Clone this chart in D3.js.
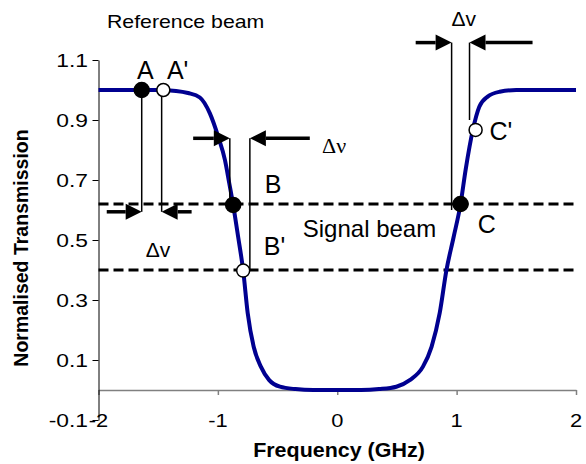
<!DOCTYPE html>
<html>
<head>
<meta charset="utf-8">
<script src="https://cdn.jsdelivr.net/npm/d3@7"></script>
<style>
  body { margin: 0; background: #fff; }
  text { font-family: Arial, "Liberation Sans", sans-serif; fill: #000; }
</style>
</head>
<body>
<script>
// transmission curve
const curveFreq  = [-2, -1.5, -1.35, -1.25, -1.151, -1.067, -0.997, -0.941, -0.905, -0.872, -0.83, -0.788, -0.75, -0.70, -0.64, -0.57, -0.48, -0.35, -0.2, 0, 0.2, 0.35, 0.495, 0.607, 0.718, 0.79, 0.858, 0.914, 0.975, 1.033, 1.075, 1.136, 1.19, 1.26, 1.36, 1.5, 2];
const curveTrans = [1, 1, 0.997, 0.99, 0.975, 0.922, 0.844, 0.767, 0.69, 0.617, 0.51, 0.398, 0.256, 0.144, 0.078, 0.033, 0.011, 0.003, 0, 0, 0, 0.003, 0.011, 0.033, 0.078, 0.144, 0.256, 0.398, 0.51, 0.62, 0.733, 0.867, 0.944, 0.978, 0.994, 1, 1];

// marked points
const pointNames  = ["A", "A'", "B", "B'", "C", "C'"];
const pointFreq   = [-1.638, -1.457, -0.872, -0.788, 1.033, 1.159];
const pointTrans  = [1.0, 1.0, 0.617, 0.398, 0.62, 0.867];
const pointFilled = [true, false, true, false, true, false];

// signal beam levels (dashed)
const levels = [0.62, 0.40];

// vertical guide lines
const guideFreq   = [-1.638, -1.471, -0.900, -0.732, 0.958, 1.108];
const guideTop    = [1.0, 1.0, 0.839, 0.839, 1.158, 1.158];
const guideBottom = [0.594, 0.594, 0.62, 0.40, 0.60, 0.90];

// Δv arrows
const arrowTrans = [0.594, 0.594, 0.839, 0.839, 1.158, 1.158];
const arrowTail  = [-1.931, -1.220, -1.207, -0.230, 0.657, 1.636];
const arrowTip   = [-1.638, -1.471, -0.900, -0.732, 0.958, 1.108];

const xTicks = [-2, -1, 0, 1, 2];
const xTickLabels = ["-2", "-1", "0", "1", "2"];
const yTicks = [-0.1, 0.1, 0.3, 0.5, 0.7, 0.9, 1.1];
const yTickLabels = ["-0.1", "0.1", "0.3", "0.5", "0.7", "0.9", "1.1"];

const W = 586, H = 464;
const x = d3.scaleLinear().domain([-2, 2]).range([98.5, 576]);
const y = d3.scaleLinear().domain([-0.1, 1.1]).range([420, 60]);

const svg = d3.select("body").append("svg")
  .attr("width", W).attr("height", H);

function widen(sel, k) {
  sel.each(function () {
    const w = this.getComputedTextLength();
    d3.select(this).attr("textLength", w * k).attr("lengthAdjust", "spacingAndGlyphs");
  });
}

// dashed signal levels
svg.append("g").selectAll("line").data(levels).join("line")
  .attr("x1", x(-2)).attr("x2", x(2))
  .attr("y1", d => y(d)).attr("y2", d => y(d))
  .attr("stroke", "#000").attr("stroke-width", 3)
  .attr("stroke-dasharray", "10,5");

// x axis at zero
const xAxis = svg.append("g")
  .attr("transform", `translate(0,${y(0)})`)
  .call(d3.axisBottom(x).tickValues(xTicks).tickSize(5).tickSizeOuter(0).tickFormat(""));
xAxis.selectAll("path, line").attr("stroke", "#808080").attr("stroke-width", 1.5);

const xLab = svg.append("g").selectAll("text").data(xTicks).join("text")
  .attr("x", d => x(d)).attr("y", 427)
  .attr("text-anchor", "middle")
  .style("font-size", "19px")
  .text((d, i) => xTickLabels[i]);
widen(xLab, 1.15);

// y axis
const yAxis = svg.append("g")
  .attr("transform", `translate(${x(-2)},0)`)
  .call(d3.axisLeft(y).tickValues(yTicks).tickSize(6).tickSizeOuter(0).tickFormat(""));
yAxis.selectAll("path, line").attr("stroke", "#000").attr("stroke-width", 1);

const yLab = svg.append("g").selectAll("text").data(yTicks).join("text")
  .attr("x", 88).attr("y", d => y(d) + 7)
  .attr("text-anchor", "end")
  .style("font-size", "19px")
  .text((d, i) => yTickLabels[i]);
widen(yLab, 1.2);

// curve
const pts = curveFreq.map((f, i) => [f, curveTrans[i]]);
svg.append("path")
  .datum(pts)
  .attr("fill", "none")
  .attr("stroke", "#000090")
  .attr("stroke-width", 4)
  .attr("d", d3.line().x(d => x(d[0])).y(d => y(d[1])).curve(d3.curveMonotoneX));

// guide lines
svg.append("g").selectAll("line").data(guideFreq).join("line")
  .attr("x1", d => x(d)).attr("x2", d => x(d))
  .attr("y1", (d, i) => y(guideTop[i])).attr("y2", (d, i) => y(guideBottom[i]))
  .attr("stroke", "#000").attr("stroke-width", 1.5);

// arrows
const ah = 16, aw = 8;
const arrows = svg.append("g").selectAll("g").data(arrowTip).join("g");
arrows.append("line")
  .attr("x1", (d, i) => x(arrowTail[i]))
  .attr("x2", (d, i) => x(d) - Math.sign(x(d) - x(arrowTail[i])) * ah)
  .attr("y1", (d, i) => y(arrowTrans[i])).attr("y2", (d, i) => y(arrowTrans[i]))
  .attr("stroke", "#000").attr("stroke-width", 3.5);
arrows.append("path")
  .attr("fill", "#000")
  .attr("d", (d, i) => {
    const tx = x(d), ty = y(arrowTrans[i]);
    const s = Math.sign(tx - x(arrowTail[i]));
    return `M${tx},${ty}L${tx - s * ah},${ty - aw}L${tx - s * ah},${ty + aw}Z`;
  });

// markers
svg.append("g").selectAll("circle").data(pointFreq).join("circle")
  .attr("cx", d => x(d)).attr("cy", (d, i) => y(pointTrans[i]))
  .attr("r", (d, i) => pointFilled[i] ? 7.5 : 6.5)
  .attr("fill", (d, i) => pointFilled[i] ? "#000" : "#fff")
  .attr("stroke", "#000").attr("stroke-width", 1.5);

// point labels
const labelPos = {
  "A":  [-1.678, 1.036], "A'": [-1.427, 1.036],
  "B":  [-0.607, 0.657], "B'": [-0.615, 0.45],
  "C":  [1.176, 0.522],  "C'": [1.276, 0.833]
};
svg.append("g").selectAll("text").data(pointNames).join("text")
  .attr("x", d => x(labelPos[d][0])).attr("y", d => y(labelPos[d][1]))
  .style("font-size", "25px")
  .text(d => d);

svg.append("text")
  .attr("x", x(-0.289)).attr("y", y(0.511))
  .style("font-size", "24px")
  .text("Signal beam");

const ref = svg.append("text")
  .attr("x", 107).attr("y", 28)
  .style("font-size", "19px")
  .text("Reference beam");
widen(ref, 1.12);

// Δv labels
svg.append("text")
  .attr("x", x(1.059)).attr("y", y(1.213))
  .attr("text-anchor", "middle")
  .style("font-size", "21px")
  .text("Δv");
svg.append("text")
  .attr("x", x(-1.502)).attr("y", y(0.443))
  .attr("text-anchor", "middle")
  .style("font-size", "21px")
  .text("Δv");
svg.append("text")
  .attr("x", x(-0.127)).attr("y", y(0.789))
  .style("font-family", "'Times New Roman', 'Liberation Serif', serif")
  .style("font-size", "22px")
  .text("Δν");

// axis titles
const xt = svg.append("text")
  .attr("x", 339).attr("y", 457)
  .attr("text-anchor", "middle")
  .style("font-size", "19.5px").style("font-weight", "bold")
  .text("Frequency (GHz)");
widen(xt, 1.1);

svg.append("text")
  .attr("transform", "translate(28,248) rotate(-90)")
  .attr("text-anchor", "middle")
  .style("font-size", "19.5px").style("font-weight", "bold")
  .text("Normalised Transmission");
</script>
</body>
</html>
